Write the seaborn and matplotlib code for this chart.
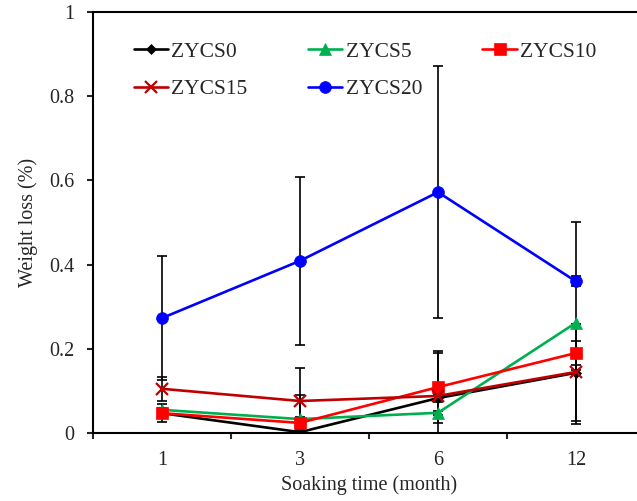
import numpy as np
import pandas as pd
import matplotlib
matplotlib.use("Agg")
import matplotlib.pyplot as plt
from matplotlib.ticker import FixedLocator, NullFormatter
import seaborn as sns

# ---- data ----
months = ["1", "3", "6", "12"]
series_names = ["ZYCS0", "ZYCS5", "ZYCS10", "ZYCS15", "ZYCS20"]
zycs0 = [0.047, 0.002, 0.083, 0.143]
zycs5 = [0.055, 0.033, 0.048, 0.262]
zycs10 = [0.047, 0.024, 0.109, 0.190]
zycs15 = [0.105, 0.076, 0.088, 0.145]
zycs20 = [0.273, 0.409, 0.572, 0.360]
err0 = [0.021, 0.005, 0.010, 0.115]
err5 = [0.005, 0.005, 0.005, 0.240]
err10 = [0.005, 0.066, 0.086, 0.028]
err15 = [0.028, 0.079, 0.102, 0.005]
err20 = [0.147, 0.200, 0.300, 0.012]
y_ticks = [0, 0.2, 0.4, 0.6, 0.8, 1]
y_tick_labels = ["0", "0.2", "0.4", "0.6", "0.8", "1"]

values = [zycs0, zycs5, zycs10, zycs15, zycs20]
errors = [err0, err5, err10, err15, err20]

sns.set_style("ticks")
plt.rcParams["font.family"] = ["Liberation Serif", "DejaVu Serif"]
plt.rcParams["font.size"] = 14.5

colors = ["#000000", "#00B050", "#FF0000", "#C00000", "#0000FF"]
markers = ["D", "^", "s", "x", "o"]
msizes = [5, 8, 8, 8, 8.5]

fig = plt.figure(figsize=(6.37, 5.01), dpi=100)
ax = fig.add_axes([93 / 637, 68 / 501, 552 / 637, 421 / 501])

xpos = np.arange(len(months))

# error bars (drawn beneath the lines)
for vals, errs in zip(values, errors):
    ax.errorbar(xpos, vals, yerr=errs, fmt="none", ecolor="black",
                elinewidth=1.2, capsize=3.5, capthick=1.2, zorder=1)

for name, vals, col, mk, ms in zip(series_names, values, colors, markers, msizes):
    df = pd.DataFrame({"x": xpos, "y": vals})
    sns.lineplot(data=df, x="x", y="y", ax=ax, color=col, marker=mk,
                 markersize=ms, markeredgecolor=col, markeredgewidth=1.6 if mk == "x" else 0.5,
                 linewidth=1.9, label=name, zorder=3)

ax.set_xlim(-0.5, len(months) - 0.5)
ax.set_ylim(0, 1)
ax.set_xticks(xpos)
ax.set_xticklabels(months)
ax.xaxis.set_minor_locator(FixedLocator(np.arange(-0.5, len(months), 1.0)))
ax.xaxis.set_minor_formatter(NullFormatter())
ax.tick_params(axis="x", which="major", length=0, pad=13, labelsize=14.5)
ax.tick_params(axis="x", which="minor", length=4.5, width=1.5, direction="out")
ax.set_yticks(y_ticks)
ax.set_yticklabels(y_tick_labels)
ax.tick_params(axis="y", length=4.5, width=1.5, direction="out", labelsize=14.5, pad=9)

for s in ["left", "bottom", "top"]:
    ax.spines[s].set_linewidth(1.5)
    ax.spines[s].set_color("black")
ax.spines["right"].set_visible(False)

ax.set_xlabel("Soaking time (month)", fontsize=14.5, labelpad=4)
ax.set_ylabel("Weight loss (%)", fontsize=14.5, labelpad=8)

handles, labels = ax.get_legend_handles_labels()
order = [0, 3, 1, 4, 2]  # row-major layout in 3 columns
ax.legend([handles[i] for i in order], [labels[i] for i in order],
          ncol=3, frameon=False, loc="upper left",
          bbox_to_anchor=(123 / 637, 1 - 31 / 501), bbox_transform=fig.transFigure,
          borderpad=0, handlelength=1.6, handletextpad=0.15,
          columnspacing=2.8, labelspacing=0.8, fontsize=15.5)

fig.savefig("out.png", dpi=100)
